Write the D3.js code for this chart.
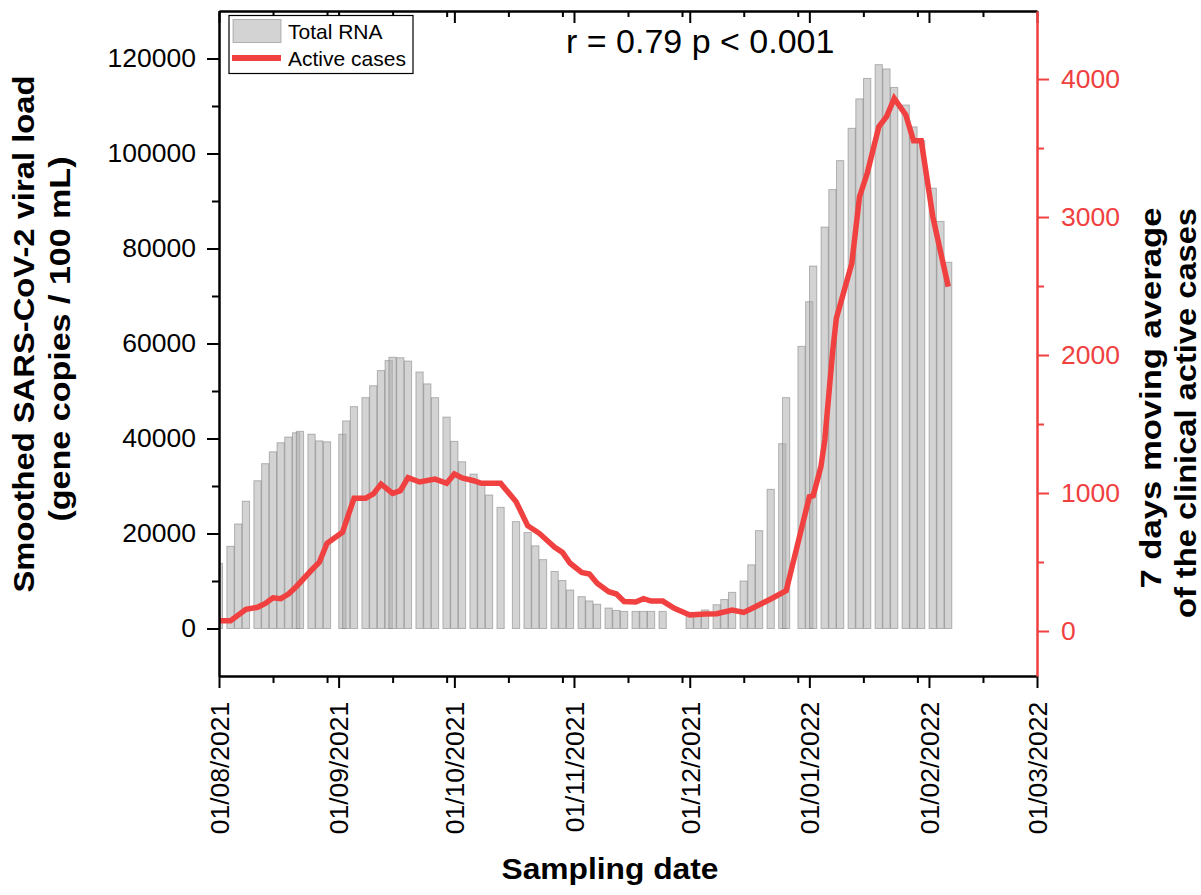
<!DOCTYPE html>
<html>
<head>
<meta charset="utf-8">
<script src="https://cdn.jsdelivr.net/npm/d3@7"></script>
<style>
  body { margin: 0; background: #fff; }
  svg text { font-family: "Liberation Sans", Arial, sans-serif; }
</style>
</head>
<body>
<div id="chart"></div>
<script>
// sampling dates and smoothed viral load (bars)
const sampleDates = [
  "2021-08-01","2021-08-04","2021-08-06","2021-08-08","2021-08-11","2021-08-13","2021-08-15","2021-08-17",
  "2021-08-19","2021-08-21","2021-08-22","2021-08-25","2021-08-27","2021-08-29","2021-09-02","2021-09-03",
  "2021-09-05","2021-09-08","2021-09-10","2021-09-12","2021-09-14","2021-09-15","2021-09-17","2021-09-19",
  "2021-09-22","2021-09-24","2021-09-26","2021-09-29","2021-10-01","2021-10-03","2021-10-06","2021-10-08",
  "2021-10-10","2021-10-13","2021-10-17","2021-10-20","2021-10-22","2021-10-24","2021-10-27","2021-10-29",
  "2021-10-31","2021-11-03","2021-11-05","2021-11-07","2021-11-10","2021-11-12","2021-11-14","2021-11-17",
  "2021-11-19","2021-11-21","2021-11-24","2021-12-01","2021-12-03","2021-12-05","2021-12-08","2021-12-10",
  "2021-12-12","2021-12-15","2021-12-17","2021-12-19","2021-12-22","2021-12-25","2021-12-26","2021-12-30",
  "2022-01-01","2022-01-02","2022-01-05","2022-01-07","2022-01-09","2022-01-12","2022-01-14","2022-01-16",
  "2022-01-19","2022-01-21","2022-01-23","2022-01-26","2022-01-28","2022-01-30","2022-02-02","2022-02-04",
  "2022-02-06"
];
const totalRNA = [
  13700, 17300, 22000, 26800, 31100, 34700, 37200, 39100,
  40300, 41200, 41500, 40900, 39500, 39300, 40900, 43700,
  46700, 48600, 51100, 54300, 56400, 57100, 57000, 56300,
  54000, 51500, 48600, 44500, 39400, 35100, 32500, 30600,
  28100, 25500, 22500, 20200, 17400, 14500, 12000, 10100,
  8100, 6700, 5800, 5100, 4300, 3800, 3600, 3600,
  3600, 3600, 3600, 3400, 3400, 3900, 5000, 6100,
  7600, 10000, 13400, 20600, 29300, 38900, 48600, 59400,
  68800, 76300, 84500, 92400, 98500, 105300, 111500, 115800,
  118700, 117800, 113900, 110200, 105600, 102700, 92700, 85700,
  77100
];

// 7 days moving average of active cases (line)
const caseDates = [
  "2021-08-01","2021-08-04","2021-08-08","2021-08-11","2021-08-13","2021-08-15","2021-08-17","2021-08-19",
  "2021-08-21","2021-08-25","2021-08-27","2021-08-29","2021-09-02","2021-09-05","2021-09-08","2021-09-10",
  "2021-09-12","2021-09-15","2021-09-17","2021-09-19","2021-09-22","2021-09-26","2021-09-29","2021-10-01",
  "2021-10-03","2021-10-06","2021-10-08","2021-10-13","2021-10-17","2021-10-20","2021-10-23","2021-10-27",
  "2021-10-29","2021-10-31","2021-11-03","2021-11-05","2021-11-07","2021-11-10","2021-11-12","2021-11-14",
  "2021-11-17","2021-11-19","2021-11-21","2021-11-24","2021-11-27","2021-12-01","2021-12-05","2021-12-08",
  "2021-12-12","2021-12-15","2021-12-18","2021-12-22","2021-12-26","2022-01-01","2022-01-02","2022-01-04",
  "2022-01-05","2022-01-07","2022-01-08","2022-01-12","2022-01-14","2022-01-16","2022-01-19","2022-01-21",
  "2022-01-23","2022-01-26","2022-01-28","2022-01-30","2022-02-02","2022-02-06"
];
const activeCases = [
  75, 75, 157, 172, 200, 241, 234, 268,
  321, 442, 498, 636, 715, 962, 962, 993,
  1065, 998, 1017, 1111, 1080, 1101, 1070, 1138,
  1109, 1089, 1070, 1070, 937, 763, 708, 607,
  570, 491, 425, 413, 346, 285, 268, 214,
  210, 234, 217, 217, 164, 116, 123, 125,
  152, 135, 176, 232, 292, 973, 980, 1191,
  1384, 2012, 2266, 2664, 3147, 3317, 3654, 3727,
  3860, 3739, 3553, 3553, 3002, 2495
];

const leftTicks = [0, 20000, 40000, 60000, 80000, 100000, 120000];
const leftMinor = [10000, 30000, 50000, 70000, 90000, 110000];
const rightTicks = [0, 1000, 2000, 3000, 4000];
const rightMinor = [500, 1500, 2500, 3500];
const monthTicks = ["2021-08-01","2021-09-01","2021-10-01","2021-11-01","2021-12-01","2022-01-01","2022-02-01","2022-03-01"];

const parse = d3.timeParse("%Y-%m-%d");
const bars = sampleDates.map((d, i) => ({ date: parse(d), value: totalRNA[i] }));
const cases = caseDates.map((d, i) => ({ date: parse(d), value: activeCases[i] }));
const months = monthTicks.map(parse);
// minor ticks on the 15th and 29th of each month
const minorDates = d3.timeDay.range(months[0], months[months.length - 1])
  .filter(d => d.getDate() === 15 || d.getDate() === 29);

const width = 1201, height = 895;
const plot = { left: 219, right: 1037, top: 11, bottom: 676 };
const red = "#f04040";
const font = 26.5;

const svg = d3.select("#chart").append("svg")
  .attr("width", width)
  .attr("height", height);

const x = d3.scaleTime().domain([months[0], months[months.length - 1]]).range([plot.left, plot.right]);
const yL = d3.scaleLinear().domain([-10000, 130000]).range([plot.bottom, plot.top]);
const yR = d3.scaleLinear().domain([-326, 4493]).range([plot.bottom, plot.top]);

svg.append("clipPath").attr("id", "clip")
  .append("rect")
  .attr("x", plot.left).attr("y", plot.top)
  .attr("width", plot.right - plot.left).attr("height", plot.bottom - plot.top);

// bars
const barDays = 1.9;
svg.append("g").attr("clip-path", "url(#clip)")
  .selectAll("rect")
  .data(bars)
  .join("rect")
  .attr("x", d => x(d3.timeHour.offset(d.date, -barDays * 12)))
  .attr("width", d => x(d3.timeHour.offset(d.date, barDays * 12)) - x(d3.timeHour.offset(d.date, -barDays * 12)))
  .attr("y", d => yL(d.value))
  .attr("height", d => yL(0) - yL(d.value))
  .attr("fill", "rgb(175,175,175)")
  .attr("fill-opacity", 0.55)
  .attr("stroke", "rgb(120,120,120)")
  .attr("stroke-opacity", 0.5)
  .attr("stroke-width", 1);

// line
const line = d3.line().x(d => x(d.date)).y(d => yR(d.value));
svg.append("path")
  .datum(cases)
  .attr("d", line)
  .attr("fill", "none")
  .attr("stroke", red)
  .attr("stroke-width", 5.5);

// axes
function styleAxis(g, color) {
  g.select(".domain").attr("stroke", color).attr("stroke-width", 2);
  g.selectAll(".tick line").attr("stroke", color).attr("stroke-width", 2);
  g.selectAll(".tick text").attr("fill", color).style("font-size", font + "px")
    .style("font-family", '"Liberation Sans", Arial, sans-serif');
}

// bottom
svg.append("g").attr("transform", `translate(0,${plot.bottom})`)
  .call(d3.axisBottom(x).tickValues(minorDates).tickSize(7).tickSizeOuter(0).tickFormat(""))
  .call(g => styleAxis(g, "#000"));
svg.append("g").attr("transform", `translate(0,${plot.bottom})`)
  .call(d3.axisBottom(x).tickValues(months).tickSize(12).tickSizeOuter(0).tickFormat(d3.timeFormat("%d/%m/%Y")))
  .call(g => styleAxis(g, "#000"))
  .call(g => g.selectAll(".tick text")
    .attr("transform", "rotate(-90)")
    .attr("x", -25.7).attr("y", 0).attr("dy", "0.35em")
    .style("text-anchor", "end"));

// top (ticks inward)
svg.append("g").attr("transform", `translate(0,${plot.top})`)
  .call(d3.axisBottom(x).tickValues(minorDates).tickSize(6).tickSizeOuter(0).tickFormat(""))
  .call(g => styleAxis(g, "#000"));
svg.append("g").attr("transform", `translate(0,${plot.top})`)
  .call(d3.axisBottom(x).tickValues(months).tickSize(12).tickSizeOuter(0).tickFormat(""))
  .call(g => styleAxis(g, "#000"));

// left
svg.append("g").attr("transform", `translate(${plot.left},0)`)
  .call(d3.axisLeft(yL).tickValues(leftMinor).tickSize(7).tickSizeOuter(0).tickFormat(""))
  .call(g => styleAxis(g, "#000"));
svg.append("g").attr("transform", `translate(${plot.left},0)`)
  .call(d3.axisLeft(yL).tickValues(leftTicks).tickSize(12).tickPadding(11).tickSizeOuter(0).tickFormat(d3.format("d")))
  .call(g => styleAxis(g, "#000"));

// right (red)
svg.append("g").attr("transform", `translate(${plot.right},0)`)
  .call(d3.axisRight(yR).tickValues(rightMinor).tickSize(7).tickSizeOuter(0).tickFormat(""))
  .call(g => styleAxis(g, red));
svg.append("g").attr("transform", `translate(${plot.right},0)`)
  .call(d3.axisRight(yR).tickValues(rightTicks).tickSize(12).tickPadding(12).tickSizeOuter(0).tickFormat(d3.format("d")))
  .call(g => styleAxis(g, red));

// axis titles
const titleFont = 30;
svg.append("text")
  .attr("transform", "translate(34,334) rotate(-90)")
  .attr("text-anchor", "middle")
  .attr("font-weight", "bold").attr("font-size", titleFont)
  .attr("textLength", 517).attr("lengthAdjust", "spacingAndGlyphs")
  .text("Smoothed SARS-CoV-2 viral load");
svg.append("text")
  .attr("transform", "translate(70,339) rotate(-90)")
  .attr("text-anchor", "middle")
  .attr("font-weight", "bold").attr("font-size", titleFont)
  .attr("textLength", 365).attr("lengthAdjust", "spacingAndGlyphs")
  .text("(gene copies / 100 mL)");

svg.append("text")
  .attr("transform", "translate(1161,398) rotate(-90)")
  .attr("text-anchor", "middle")
  .attr("font-weight", "bold").attr("font-size", titleFont)
  .attr("textLength", 381).attr("lengthAdjust", "spacingAndGlyphs")
  .text("7 days moving average");
svg.append("text")
  .attr("transform", "translate(1196,413) rotate(-90)")
  .attr("text-anchor", "middle")
  .attr("font-weight", "bold").attr("font-size", titleFont)
  .attr("textLength", 410).attr("lengthAdjust", "spacingAndGlyphs")
  .text("of the clinical active cases");

svg.append("text")
  .attr("x", 610).attr("y", 879)
  .attr("text-anchor", "middle")
  .attr("font-weight", "bold").attr("font-size", titleFont)
  .attr("textLength", 217).attr("lengthAdjust", "spacingAndGlyphs")
  .text("Sampling date");

// correlation note
svg.append("text")
  .attr("x", 566).attr("y", 53)
  .attr("font-size", 34)
  .text("r = 0.79 p < 0.001");

// legend
const legend = svg.append("g");
legend.append("rect")
  .attr("x", 229).attr("y", 15.5).attr("width", 184).attr("height", 58)
  .attr("fill", "#fff").attr("stroke", "#000").attr("stroke-width", 1.2);
legend.append("rect")
  .attr("x", 233).attr("y", 19.5).attr("width", 48).attr("height", 23)
  .attr("fill", "rgb(175,175,175)").attr("fill-opacity", 0.55)
  .attr("stroke", "rgb(120,120,120)").attr("stroke-opacity", 0.5);
legend.append("line")
  .attr("x1", 232).attr("x2", 281).attr("y1", 58).attr("y2", 58)
  .attr("stroke", red).attr("stroke-width", 6);
legend.append("text").attr("x", 288).attr("y", 38.5).attr("font-size", 21).text("Total RNA");
legend.append("text").attr("x", 288).attr("y", 65.5).attr("font-size", 21).text("Active cases");
</script>
</body>
</html>
